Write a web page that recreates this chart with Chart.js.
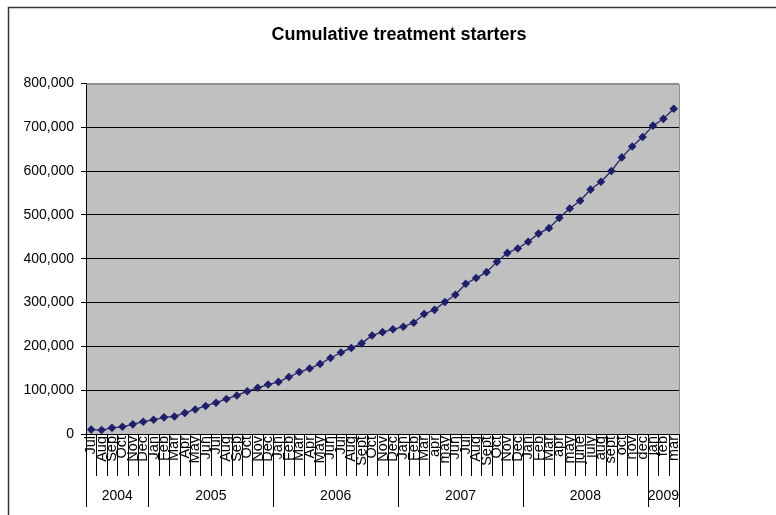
<!DOCTYPE html>
<html>
<head>
<meta charset="utf-8">
<script src="https://cdn.jsdelivr.net/npm/chart.js@4/dist/chart.umd.min.js"></script>
<style>
  html, body { margin: 0; padding: 0; background: #fff; }
  #c { display: block; }
</style>
</head>
<body>
<canvas id="c" width="776" height="515"></canvas>
<script>
// Month labels along the category axis (Jul 2004 – Mar 2009)
const months = [
  'Jul','Aug','Sep','Oct','Nov','Dec',
  'Jan','Feb','Mar','Apr','May','Jun','Jul','Aug','Sep','Oct','Nov','Dec',
  'Jan','Feb','Mar','Apr','May','Jun','Jul','Aug','Sept','Oct','Nov','Dec',
  'Jan','Feb','Mar','apr','may','Jun','Jul','Aug','Sept','Oct','Nov','Dec',
  'Jan','Feb','Mar','apr','may','june','july','aug','sept','oct','nov','dec',
  'jan','feb','mar'
];

// Year groups shown beneath the month labels
const years = ['2004', '2005', '2006', '2007', '2008', '2009'];
const monthsPerYear = [6, 12, 12, 12, 12, 3];

// Cumulative number of people started on treatment
const starters = [
  10000, 9000, 14000, 16500, 22000, 28000,
  32500, 38000, 40000, 48000, 56000, 64000, 71500, 80000, 88000, 97500, 105500, 113000,
  119000, 130000, 141500, 149500, 160000, 173500, 186000, 196500, 207000, 225000, 232500, 239000,
  245000, 254000, 274000, 283500, 301500, 318000, 343000, 356000, 369500, 393000, 413500, 423500,
  439000, 457500, 470000, 493500, 515000, 532500, 558000, 576000, 600500, 631500, 656500, 678000,
  704000, 719500, 742500
];

// Value axis range
const yMin = 0;
const yMax = 800000;
const yStep = 100000;

const FONT = "'Liberation Sans', Arial, Helvetica, sans-serif";

// Grey plot area, outer frame, month separators and the year row
const excelFrame = {
  id: 'excelFrame',
  beforeDraw(chart) {
    const { ctx, chartArea: a } = chart;
    ctx.save();
    ctx.fillStyle = '#c0c0c0';
    ctx.fillRect(a.left, a.top, a.right - a.left, a.bottom - a.top);
    ctx.restore();
  },
  afterDraw(chart) {
    const { ctx, chartArea: a, scales: { x } } = chart;
    const crisp = v => Math.round(v) + 0.5;
    const boundary = k => x.getPixelForValue(k - 0.5);
    ctx.save();

    // plot area top/right edge
    ctx.strokeStyle = '#8f8f8f';
    ctx.lineWidth = 1;
    ctx.beginPath();
    ctx.moveTo(crisp(a.left), crisp(a.top));
    ctx.lineTo(crisp(a.right), crisp(a.top));
    ctx.lineTo(crisp(a.right), crisp(a.bottom));
    ctx.stroke();

    // separators between months
    ctx.strokeStyle = '#000';
    ctx.beginPath();
    for (let k = 0; k <= months.length; k++) {
      const px = crisp(boundary(k));
      ctx.moveTo(px, a.bottom);
      ctx.lineTo(px, a.bottom + 42);
    }
    ctx.stroke();

    // year separators and labels
    ctx.font = '14px ' + FONT;
    ctx.fillStyle = '#000';
    ctx.textAlign = 'center';
    ctx.textBaseline = 'middle';
    let start = 0;
    ctx.beginPath();
    ctx.moveTo(crisp(boundary(0)), a.bottom);
    ctx.lineTo(crisp(boundary(0)), a.bottom + 73);
    years.forEach((yr, i) => {
      const end = start + monthsPerYear[i];
      const x0 = boundary(start), x1 = boundary(end);
      ctx.moveTo(crisp(x1), a.bottom);
      ctx.lineTo(crisp(x1), a.bottom + 73);
      ctx.fillText(yr, (x0 + x1) / 2, a.bottom + 62);
      start = end;
    });
    ctx.stroke();

    // outer chart frame (top and left edges)
    ctx.strokeStyle = '#333';
    ctx.lineWidth = 1.5;
    ctx.beginPath();
    ctx.moveTo(8.5, chart.height);
    ctx.lineTo(8.5, 7.5);
    ctx.lineTo(chart.width, 7.5);
    ctx.stroke();
    ctx.restore();
  }
};

new Chart(document.getElementById('c'), {
  type: 'line',
  data: {
    labels: months,
    datasets: [{
      data: starters,
      borderColor: '#26266e',
      backgroundColor: '#1f1f6a',
      borderWidth: 1.3,
      pointStyle: 'rectRot',
      pointRadius: 4.3,
      pointBorderWidth: 0,
      pointBackgroundColor: '#1f1f6a',
      tension: 0,
      fill: false
    }]
  },
  options: {
    responsive: false,
    animation: false,
    devicePixelRatio: 1,
    layout: { padding: { left: 22, right: 0, top: 0, bottom: 0 } },
    plugins: {
      legend: { display: false },
      tooltip: { enabled: false },
      title: {
        display: true,
        text: 'Cumulative treatment starters',
        color: '#000',
        font: { family: FONT, size: 18, weight: 'bold' },
        padding: { top: 24, bottom: 38 }
      }
    },
    scales: {
      x: {
        type: 'category',
        offset: true,
        grid: { display: true, drawOnChartArea: false, drawTicks: false },
        border: { display: true, color: '#000', width: 1 },
        ticks: {
          autoSkip: false,
          minRotation: 90,
          maxRotation: 90,
          padding: 2,
          color: '#000',
          font: { family: FONT, size: 14.5 }
        },
        afterFit(scale) { scale.height = 81; }
      },
      y: {
        min: yMin,
        max: yMax,
        grid: {
          color: ctx => (ctx.tick && ctx.tick.value === yMax) ? '#8f8f8f' : '#000',
          tickColor: '#000',
          lineWidth: 1,
          drawTicks: true,
          tickLength: 5
        },
        border: { display: true, color: '#000', width: 1 },
        ticks: {
          stepSize: yStep,
          padding: 7,
          color: '#000',
          font: { family: FONT, size: 14 },
          callback: v => v.toLocaleString('en-US')
        },
        afterFit(scale) { scale.width = 64; }
      },
      // empty margin to the right of the plot area
      gap: {
        type: 'linear',
        position: 'right',
        display: true,
        grid: { display: false, drawTicks: false },
        border: { display: false },
        ticks: { display: false },
        afterFit(scale) { scale.width = 97; }
      }
    }
  },
  plugins: [excelFrame]
});
</script>
</body>
</html>
